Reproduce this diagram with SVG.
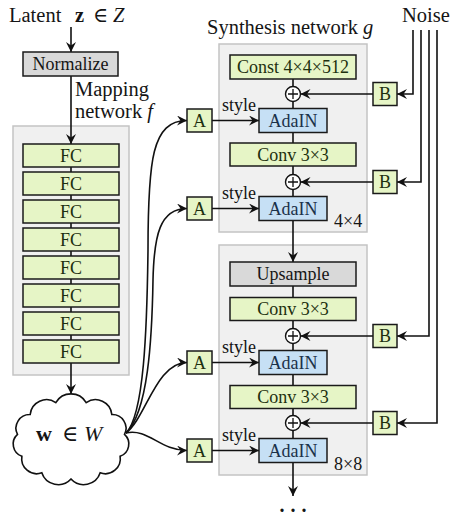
<svg xmlns="http://www.w3.org/2000/svg" width="464" height="518" viewBox="0 0 464 518">
<defs>
<marker id="arr" viewBox="0 0 10 10" refX="10" refY="5" markerWidth="12" markerHeight="10" markerUnits="userSpaceOnUse" orient="auto"><path d="M0,0 L10,5 L0,10 L3.5,5 Z" fill="#111"/></marker>
</defs>
<style>
text{font-family:"Liberation Serif","DejaVu Serif",serif;fill:#151515}
.lbl{font-size:20.5px}
.bx{font-size:18px;text-anchor:middle}
.sm{font-size:18px}
.panel{fill:#f0f0f0;stroke:#c4c4c4;stroke-width:1.5}
.g{fill:#e6f5c6;stroke:#1a1a1a;stroke-width:1.5}
.b{fill:#c6e0f5;stroke:#1a1a1a;stroke-width:1.5}
.gr{fill:#d9d9d9;stroke:#1a1a1a;stroke-width:1.5}
.ln{fill:none;stroke:#111;stroke-width:1.6}
.ar{marker-end:url(#arr)}
.tg{fill:#1d300f}
.tb{fill:#1b3149}
.pc{fill:#fff;stroke:#111;stroke-width:1.4}
.pl{stroke:#111;stroke-width:1.3}
</style>
<rect width="464" height="518" fill="#fff"/>

<g id="mapping-panel"><rect class="panel" x="13" y="126" width="116" height="249"/></g>
<g id="synthesis-4x4-panel"><rect class="panel" x="219" y="44" width="148" height="188"/></g>
<g id="synthesis-8x8-panel"><rect class="panel" x="219" y="245" width="148" height="230"/></g>

<g id="labels">
<text class="lbl" x="9" y="22">Latent<tspan x="75" font-weight="bold">z</tspan><tspan x="93">∈</tspan><tspan x="113" font-style="italic">Z</tspan></text>
<text class="lbl" x="75" y="96">Mapping</text>
<text class="lbl" x="75" y="118">network <tspan font-style="italic">f</tspan></text>
<text class="lbl" x="207" y="34">Synthesis network <tspan font-style="italic">g</tspan></text>
<text class="lbl" x="402" y="22">Noise</text>
<text class="sm" x="334" y="227">4×4</text>
<text class="sm" x="334" y="470">8×8</text>
<text class="sm" x="222" y="110.5">style</text>
<text class="sm" x="222" y="198.5">style</text>
<text class="sm" x="222" y="352.5">style</text>
<text class="sm" x="222" y="440.5">style</text>
<text x="296" y="512" font-size="20" font-weight="bold" text-anchor="middle" letter-spacing="6">...</text>
</g>

<g id="connectors">
<path class="ln ar" d="M71,27 V52"/>
<path class="ln ar" d="M71,76 V144"/>
<path class="ln" d="M71,167 V340"/>
<path class="ln ar" d="M71,363 V394"/>
<path class="ln ar" d="M126,433 C144,415 147,330 148,250 C148,160 152,120.5 187,120.5"/>
<path class="ln ar" d="M126,433 C148,412 152,340 153,280 C154,235 160,208.5 187,208.5"/>
<path class="ln ar" d="M126,433 C146,418 156,362.5 187,362.5"/>
<path class="ln ar" d="M126,433 C148,428 160,450.5 187,450.5"/>
<path class="ln ar" d="M212,120.5 H259"/>
<path class="ln ar" d="M212,208.5 H259"/>
<path class="ln ar" d="M212,362.5 H259"/>
<path class="ln ar" d="M212,450.5 H259"/>
<path class="ln" d="M293,79 V196.5"/>
<path class="ln ar" d="M293,220.5 V262"/>
<path class="ln" d="M293,286 V438.5"/>
<path class="ln ar" d="M293,462.5 V496"/>
<path class="ln ar" d="M373,94 H300.5"/>
<path class="ln ar" d="M373,182 H300.5"/>
<path class="ln ar" d="M373,336 H300.5"/>
<path class="ln ar" d="M373,423 H300.5"/>
<path class="ln ar" d="M413,30 V94 H397"/>
<path class="ln ar" d="M421,30 V182 H397"/>
<path class="ln ar" d="M429,30 V336 H397"/>
<path class="ln ar" d="M437,30 V423 H397"/>
</g>

<g id="normalize"><rect class="gr" x="23" y="52" width="95" height="24"/><text class="bx" x="70.5" y="70">Normalize</text></g>
<g id="fc1"><rect class="g" x="23" y="144" width="96" height="23"/><text class="bx tg" x="71" y="161.5">FC</text></g>
<g id="fc2"><rect class="g" x="23" y="172" width="96" height="23"/><text class="bx tg" x="71" y="189.5">FC</text></g>
<g id="fc3"><rect class="g" x="23" y="200" width="96" height="23"/><text class="bx tg" x="71" y="217.5">FC</text></g>
<g id="fc4"><rect class="g" x="23" y="228" width="96" height="23"/><text class="bx tg" x="71" y="245.5">FC</text></g>
<g id="fc5"><rect class="g" x="23" y="256" width="96" height="23"/><text class="bx tg" x="71" y="273.5">FC</text></g>
<g id="fc6"><rect class="g" x="23" y="284" width="96" height="23"/><text class="bx tg" x="71" y="301.5">FC</text></g>
<g id="fc7"><rect class="g" x="23" y="312" width="96" height="23"/><text class="bx tg" x="71" y="329.5">FC</text></g>
<g id="fc8"><rect class="g" x="23" y="340" width="96" height="23"/><text class="bx tg" x="71" y="357.5">FC</text></g>

<g id="w-latent">
<path d="M55.8,402.6 A17.6,17.6 0 0 1 86.2,402.6 A16.4,16.4 0 0 1 111.8,414.5 A13.7,13.7 0 0 1 124.5,434.4 A12.9,12.9 0 0 1 120.1,456.2 A15,15 0 0 1 100.2,472.8 A17.3,17.3 0 0 1 71,479 A17.3,17.3 0 0 1 41.8,472.8 A15,15 0 0 1 21.9,456.2 A12.9,12.9 0 0 1 17.5,434.4 A13.7,13.7 0 0 1 30.2,414.5 A16.4,16.4 0 0 1 55.8,402.6 Z" fill="#fff" stroke="#111" stroke-width="1.6"/>
<text x="36" y="441" font-size="22"><tspan font-weight="bold">w</tspan><tspan x="62">∈</tspan><tspan x="84" font-style="italic">W</tspan></text>
</g>

<g id="const"><rect class="g" x="230" y="55" width="126" height="24"/><text class="bx tg" x="293" y="73">Const 4×4×512</text></g>
<g id="plus1"><circle class="pc" cx="293" cy="94" r="7.5"/><path class="pl" d="M288,94 H298 M293,89 V99"/></g>
<g id="adain1"><rect class="b" x="259" y="108.5" width="68" height="24"/><text class="bx tb" x="293" y="126.5">AdaIN</text></g>
<g id="conv1"><rect class="g" x="230" y="143" width="126" height="23"/><text class="bx tg" x="293" y="160.5">Conv 3×3</text></g>
<g id="plus2"><circle class="pc" cx="293" cy="182" r="7.5"/><path class="pl" d="M288,182 H298 M293,177 V187"/></g>
<g id="adain2"><rect class="b" x="259" y="196.5" width="68" height="24"/><text class="bx tb" x="293" y="214.5">AdaIN</text></g>

<g id="upsample"><rect class="gr" x="230" y="262" width="126" height="24"/><text class="bx" x="293" y="280">Upsample</text></g>
<g id="conv2"><rect class="g" x="230" y="297.5" width="126" height="23"/><text class="bx tg" x="293" y="315">Conv 3×3</text></g>
<g id="plus3"><circle class="pc" cx="293" cy="336" r="7.5"/><path class="pl" d="M288,336 H298 M293,331 V341"/></g>
<g id="adain3"><rect class="b" x="259" y="350.5" width="68" height="24"/><text class="bx tb" x="293" y="368.5">AdaIN</text></g>
<g id="conv3"><rect class="g" x="230" y="385.5" width="126" height="23"/><text class="bx tg" x="293" y="403">Conv 3×3</text></g>
<g id="plus4"><circle class="pc" cx="293" cy="423" r="7.5"/><path class="pl" d="M288,423 H298 M293,418 V428"/></g>
<g id="adain4"><rect class="b" x="259" y="438.5" width="68" height="24"/><text class="bx tb" x="293" y="456.5">AdaIN</text></g>

<g id="a1"><rect class="g" x="187" y="109" width="25" height="23"/><text class="bx tg" x="199.5" y="126.5">A</text></g>
<g id="a2"><rect class="g" x="187" y="197" width="25" height="23"/><text class="bx tg" x="199.5" y="214.5">A</text></g>
<g id="a3"><rect class="g" x="187" y="351" width="25" height="23"/><text class="bx tg" x="199.5" y="368.5">A</text></g>
<g id="a4"><rect class="g" x="187" y="439" width="25" height="23"/><text class="bx tg" x="199.5" y="456.5">A</text></g>

<g id="b1"><rect class="g" x="373" y="82.5" width="24" height="23"/><text class="bx tg" x="385" y="100">B</text></g>
<g id="b2"><rect class="g" x="373" y="170.5" width="24" height="23"/><text class="bx tg" x="385" y="188">B</text></g>
<g id="b3"><rect class="g" x="373" y="324.5" width="24" height="23"/><text class="bx tg" x="385" y="342">B</text></g>
<g id="b4"><rect class="g" x="373" y="411.5" width="24" height="23"/><text class="bx tg" x="385" y="429">B</text></g>
</svg>
